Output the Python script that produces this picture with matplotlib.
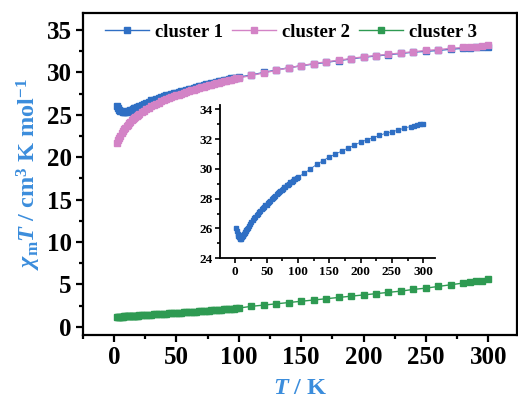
import matplotlib
matplotlib.use('Agg')
import matplotlib.pyplot as plt
from matplotlib.ticker import MultipleLocator

plt.rcParams.update({
    'font.family': 'Liberation Serif',
    'font.weight': 'bold',
    'mathtext.fontset': 'custom',
    'mathtext.rm': 'Liberation Serif:bold',
    'mathtext.it': 'Liberation Serif:bold:italic',
    'mathtext.bf': 'Liberation Serif:bold',
})

# temperature grid (K)
T = [2, 3, 4, 5, 6, 7, 8, 9, 10, 11, 12, 13, 14, 15, 16, 17, 18, 19, 20,
     22, 24, 26, 28, 30, 32, 34, 36, 38, 40,
     42, 44, 46, 48, 50, 52, 54, 56, 58, 60, 62, 64, 66, 68, 70, 72, 74, 76, 78, 80,
     82, 84, 86, 88, 90, 92, 94, 96, 98, 100,
     110, 120, 130, 140, 150, 160, 170, 180, 190, 200, 210, 220, 230, 240, 250,
     260, 270, 280, 285, 290, 295, 300]

cluster1 = [26.0, 25.8, 25.6, 25.5, 25.4, 25.35, 25.3, 25.3, 25.35, 25.4, 25.5, 25.55,
            25.6, 25.7, 25.75, 25.8, 25.9, 25.95, 26.0,
            26.15, 26.3, 26.4, 26.55, 26.7, 26.8, 26.9, 27.0, 27.1, 27.2,
            27.3, 27.35, 27.45, 27.55, 27.6, 27.7, 27.8, 27.85, 27.95, 28.05,
            28.1, 28.2, 28.3, 28.35, 28.45, 28.5, 28.6, 28.65, 28.75, 28.8,
            28.9, 28.95, 29.0, 29.1, 29.15, 29.2, 29.3, 29.35, 29.4, 29.45,
            29.7, 30.0, 30.3, 30.55, 30.8, 31.0, 31.2, 31.4, 31.6, 31.8,
            31.95, 32.1, 32.25, 32.4, 32.5, 32.6, 32.75, 32.85, 32.9, 32.95, 33.0, 33.05]

cluster2 = [21.7, 22.0, 22.3, 22.55, 22.8, 23.05, 23.3, 23.5, 23.7, 23.85, 24.0, 24.2,
            24.35, 24.5, 24.6, 24.75, 24.85, 25.0, 25.1,
            25.3, 25.5, 25.7, 25.85, 26.0, 26.2, 26.3, 26.45, 26.6, 26.7,
            26.85, 26.95, 27.1, 27.2, 27.3, 27.4, 27.5, 27.6, 27.7, 27.8,
            27.9, 27.95, 28.05, 28.15, 28.25, 28.3, 28.4, 28.5, 28.55, 28.65,
            28.75, 28.8, 28.9, 28.95, 29.0, 29.1, 29.15, 29.2, 29.3, 29.35,
            29.65, 29.95, 30.25, 30.55, 30.8, 31.05, 31.25, 31.45, 31.65, 31.85,
            32.0, 32.15, 32.3, 32.45, 32.6, 32.7, 32.85, 32.95, 33.0, 33.05, 33.1, 33.2]

cluster3 = [1.15, 1.16, 1.17, 1.18, 1.19, 1.2, 1.21, 1.22, 1.23, 1.24, 1.25, 1.26,
            1.27, 1.28, 1.29, 1.3, 1.31, 1.32, 1.33,
            1.35, 1.37, 1.39, 1.41, 1.43, 1.45, 1.47, 1.49, 1.51, 1.53,
            1.55, 1.57, 1.59, 1.61, 1.63, 1.65, 1.67, 1.69, 1.71, 1.73,
            1.75, 1.77, 1.79, 1.81, 1.83, 1.85, 1.87, 1.89, 1.92, 1.94,
            1.96, 1.98, 2.01, 2.03, 2.06, 2.08, 2.11, 2.14, 2.17, 2.2,
            2.4, 2.55, 2.7, 2.85, 3.0, 3.15, 3.3, 3.45, 3.6, 3.75,
            3.9, 4.05, 4.2, 4.4, 4.55, 4.75, 4.95, 5.15, 5.25, 5.35, 5.45, 5.6]

c1, c2, c3 = '#2f6fc4', '#d383c6', '#2e9a52'
label_blue = '#3b8ddc'

fig = plt.figure(figsize=(5.18, 3.99), dpi=100)
ax = fig.add_axes([0.160, 0.160, 0.838, 0.807])

ax.plot(T, cluster1, '-s', color=c1, ms=5.0, lw=1.0, label='cluster 1', zorder=3)
ax.plot(T, cluster2, '-s', color=c2, ms=5.0, lw=1.0, label='cluster 2', zorder=4)
ax.plot(T, cluster3, '-s', color=c3, ms=5.0, lw=1.0, label='cluster 3', zorder=3)

ax.set_xlim(-25, 323)
ax.set_ylim(-1, 37)
ax.xaxis.set_major_locator(MultipleLocator(50))
ax.xaxis.set_minor_locator(MultipleLocator(25))
ax.yaxis.set_major_locator(MultipleLocator(5))
ax.yaxis.set_minor_locator(MultipleLocator(2.5))
ax.tick_params(which='major', direction='out', length=5, width=1.6, labelsize=18, pad=3)
ax.tick_params(which='minor', direction='out', length=3, width=1.6)
plt.setp(ax.get_xticklabels() + ax.get_yticklabels(), fontweight='bold')
for s in ax.spines.values():
    s.set_linewidth(1.6)

ax.set_xlabel(r'$T$ / K', fontsize=17.5, fontweight='bold', color=label_blue, labelpad=6)
ax.set_ylabel(r'$\chi_{\rm m}T$ / cm$^{3}$ K mol$^{-1}$', fontsize=17.5, fontweight='bold',
              color=label_blue, labelpad=3)

leg = ax.legend(loc='upper center', ncol=3, frameon=False, fontsize=13.5, handlelength=2.3,
                columnspacing=0.5, handletextpad=0.35, borderaxespad=0.15,
                bbox_to_anchor=(0.48, 1.0))
for t in leg.get_texts():
    t.set_fontweight('bold')

# inset
ins = fig.add_axes([0.425, 0.353, 0.415, 0.384])
ins.plot(T, cluster1, '-s', color=c1, ms=2.6, lw=0.6)
ins.set_xlim(-24, 319)
ins.set_ylim(24, 34.3)
ins.xaxis.set_major_locator(MultipleLocator(50))
ins.xaxis.set_minor_locator(MultipleLocator(25))
ins.yaxis.set_major_locator(MultipleLocator(2))
ins.yaxis.set_minor_locator(MultipleLocator(1))
ins.spines['top'].set_visible(False)
ins.spines['right'].set_visible(False)
for s in ['left', 'bottom']:
    ins.spines[s].set_linewidth(1.3)
ins.tick_params(which='major', direction='out', length=3.5, width=1.2, labelsize=9.5, pad=2)
ins.tick_params(which='minor', direction='out', length=2, width=1.2)
plt.setp(ins.get_xticklabels() + ins.get_yticklabels(), fontweight='bold')

fig.savefig('out.png', dpi=100)
